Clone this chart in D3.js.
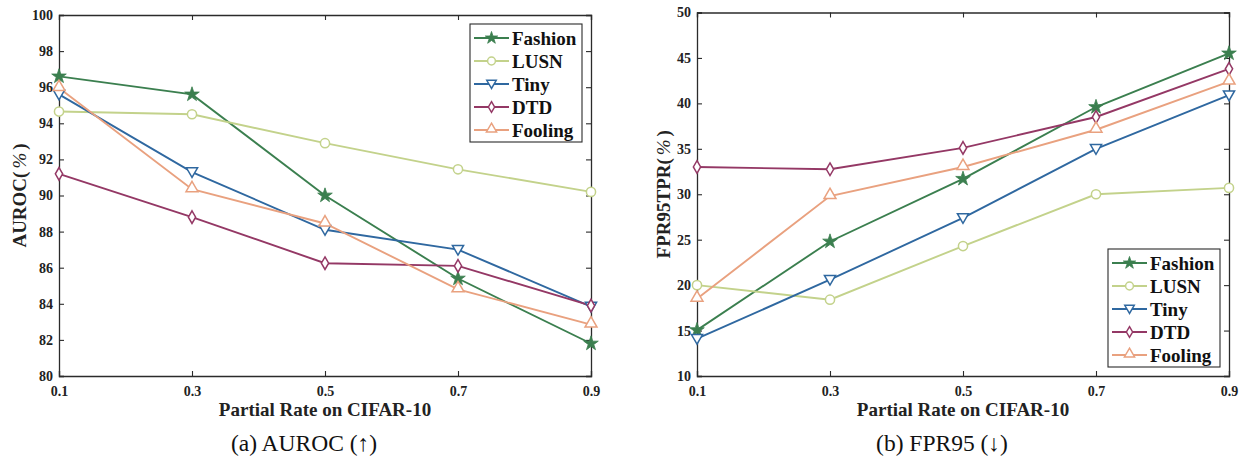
<!DOCTYPE html>
<html>
<head>
<meta charset="utf-8">
<script src="https://cdn.jsdelivr.net/npm/d3@7"></script>
<style>
  html, body { margin: 0; padding: 0; background: #fff; }
  svg text { font-family: "Liberation Serif", "Times New Roman", serif; }
</style>
</head>
<body>
<svg id="chart" width="1242" height="459"></svg>
<script>
// data
const rates = [0.1, 0.3, 0.5, 0.7, 0.9]
const seriesNames = ["Fashion", "LUSN", "Tiny", "DTD", "Fooling"]

const aurocFashion = [96.6, 95.6, 90.0, 85.4, 81.8]
const aurocLUSN = [94.65, 94.5, 92.9, 91.45, 90.2]
const aurocTiny = [95.6, 91.3, 88.1, 87.0, 83.85]
const aurocDTD = [91.2, 88.8, 86.25, 86.1, 83.9]
const aurocFooling = [95.95, 90.35, 88.45, 84.8, 82.85]

const fprFashion = [15.05, 24.8, 31.7, 39.6, 45.5]
const fprLUSN = [20.0, 18.4, 24.3, 30.0, 30.7]
const fprTiny = [14.1, 20.6, 27.4, 35.0, 40.9]
const fprDTD = [33.0, 32.75, 35.1, 38.5, 43.8]
const fprFooling = [18.5, 29.8, 33.0, 37.1, 42.4]

const aurocTicks = [80, 82, 84, 86, 88, 90, 92, 94, 96, 98, 100]
const fprTicks = [10, 15, 20, 25, 30, 35, 40, 45, 50]

const colours = d3.scaleOrdinal()
  .domain(seriesNames)
  .range(["#3b7f4f", "#c3d28b", "#2f68a0", "#943865", "#e9a17f"])

const svg = d3.select("#chart")
const axisColour = "#2b2b2b"

// marker shapes, MATLAB style
function marker(sel, name, scale) {
  const k = scale || 1
  const c = colours(name)
  if (name === "Fashion") {
    sel.append("path")
      .attr("d", d3.symbol(d3.symbolStar, 66 * k * k)())
      .attr("fill", c).attr("stroke", c).attr("stroke-width", 0.8)
  } else if (name === "LUSN") {
    sel.append("path")
      .attr("d", d3.symbol(d3.symbolCircle, 66 * k * k)())
      .attr("fill", "#fff").attr("stroke", c).attr("stroke-width", 1.5)
  } else if (name === "Tiny") {
    sel.append("path")
      .attr("d", d3.symbol(d3.symbolTriangle, 54 * k * k)())
      .attr("transform", "translate(0,-1) rotate(180)")
      .attr("fill", "#fff").attr("stroke", c).attr("stroke-width", 1.5)
  } else if (name === "DTD") {
    sel.append("path")
      .attr("d", d3.symbol(d3.symbolDiamond, 46 * k * k)())
      .attr("fill", "#fff").attr("stroke", c).attr("stroke-width", 1.5)
  } else {
    sel.append("path")
      .attr("d", d3.symbol(d3.symbolTriangle, 62 * k * k)())
      .attr("transform", "translate(0,-1)")
      .attr("fill", "#fff").attr("stroke", c).attr("stroke-width", 1.5)
  }
}

function drawPanel(opts) {
  const g = svg.append("g")

  const x = d3.scaleLinear()
    .domain([0.1, 0.9])
    .range([opts.left, opts.right])

  const y = d3.scaleLinear()
    .domain(d3.extent(opts.ticks))
    .range([opts.bottom, opts.top])

  // ticks on all four sides, pointing inwards
  const xFmt = d3.format(".1f")
  g.append("g")
    .attr("transform", `translate(0,${opts.bottom})`)
    .call(d3.axisBottom(x).tickValues(rates).tickSize(-5).tickPadding(10).tickFormat(xFmt))
  g.append("g")
    .attr("transform", `translate(0,${opts.top})`)
    .call(d3.axisTop(x).tickValues(rates).tickSize(-5).tickFormat(""))
  g.append("g")
    .attr("transform", `translate(${opts.left},0)`)
    .call(d3.axisLeft(y).tickValues(opts.ticks).tickSize(-5).tickPadding(6))
  g.append("g")
    .attr("transform", `translate(${opts.right},0)`)
    .call(d3.axisRight(y).tickValues(opts.ticks).tickSize(-5).tickFormat(""))

  g.selectAll(".domain").attr("stroke", axisColour).attr("stroke-width", 1.3)
  g.selectAll(".tick line").attr("stroke", axisColour).attr("stroke-width", 1.1)
  g.selectAll(".tick text")
    .attr("fill", "#222")
    .style("font-family", "'Liberation Serif', serif")
    .style("font-weight", "bold")
    .style("font-size", "14px")

  // series lines
  const line = d3.line()
    .x((d, i) => x(rates[i]))
    .y(d => y(d))

  opts.series.forEach((vals, s) => {
    const name = seriesNames[s]
    g.append("path")
      .datum(vals)
      .attr("d", line)
      .attr("fill", "none")
      .attr("stroke", colours(name))
      .attr("stroke-width", 1.9)
  })
  opts.series.forEach((vals, s) => {
    const name = seriesNames[s]
    vals.forEach((v, i) => {
      g.append("g")
        .attr("transform", `translate(${x(rates[i])},${y(v)})`)
        .call(marker, name)
    })
  })

  // axis titles
  g.append("text")
    .attr("x", (opts.left + opts.right) / 2)
    .attr("y", 416)
    .attr("text-anchor", "middle")
    .attr("fill", "#222")
    .style("font-weight", "bold")
    .style("font-size", "19px")
    .text("Partial Rate on CIFAR-10")

  const yl = g.append("text")
    .attr("transform", `translate(${opts.left - opts.ylabOffset},${(opts.top + opts.bottom) / 2}) rotate(-90)`)
    .attr("text-anchor", "middle")
    .attr("fill", "#222")
    .style("font-weight", "bold")
    .style("font-size", "19px")
  yl.append("tspan").text(opts.ylab + "(")
  yl.append("tspan").attr("dx", 3).style("font-style", "italic").style("font-weight", "normal").text("%")
  yl.append("tspan").attr("dx", 3).text(")")

  // caption
  g.append("text")
    .attr("x", (opts.left + opts.right) / 2 - 21)
    .attr("y", 451)
    .attr("text-anchor", "middle")
    .attr("fill", "#111")
    .style("font-size", "23.5px")
    .text(opts.caption)

  // legend
  const lw = 112, lh = 118
  const lg = g.append("g")
    .attr("transform", `translate(${opts.legendX},${opts.legendY})`)
  lg.append("rect")
    .attr("width", lw).attr("height", lh)
    .attr("fill", "#fff")
    .attr("stroke", axisColour).attr("stroke-width", 1.1)
  seriesNames.forEach((name, i) => {
    const row = lg.append("g").attr("transform", `translate(0,${14 + i * 23})`)
    row.append("line")
      .attr("x1", 4).attr("x2", 39)
      .attr("stroke", colours(name)).attr("stroke-width", 1.9)
    row.append("g").attr("transform", "translate(21.5,0)").call(marker, name, 0.85)
    row.append("text")
      .attr("x", 42).attr("y", 6.5)
      .attr("fill", "#111")
      .style("font-weight", "bold")
      .style("font-size", "19px")
      .text(name)
  })
}

drawPanel({
  left: 59, right: 591, top: 15, bottom: 376,
  ticks: aurocTicks,
  series: [aurocFashion, aurocLUSN, aurocTiny, aurocDTD, aurocFooling],
  ylab: "AUROC",
  ylabOffset: 33,
  caption: "(a) AUROC (\u2191)",
  legendX: 470, legendY: 24
})

drawPanel({
  left: 697, right: 1229, top: 12.5, bottom: 376,
  ticks: fprTicks,
  series: [fprFashion, fprLUSN, fprTiny, fprDTD, fprFooling],
  ylab: "FPR95TPR",
  ylabOffset: 27,
  caption: "(b) FPR95 (\u2193)",
  legendX: 1108, legendY: 249
})
</script>
</body>
</html>
